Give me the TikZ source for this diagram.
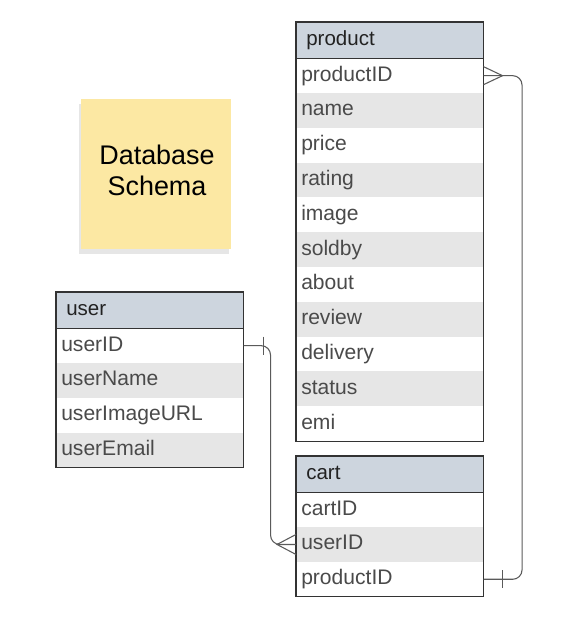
\documentclass[tikz,border=0pt]{standalone}
\usepackage{fontspec}
\setmainfont{Liberation Sans}
\usetikzlibrary{shadows,calc}
\definecolor{hdr}{HTML}{CDD5DE}
\definecolor{alt}{HTML}{E6E6E6}
\definecolor{sticky}{HTML}{FCE8A3}
\definecolor{txt}{HTML}{4A4A4A}
\definecolor{hdrtxt}{HTML}{222222}
\definecolor{edge}{HTML}{333333}
\definecolor{conn}{HTML}{5A5A5A}
\begin{document}
\begin{tikzpicture}[x=0.75pt,y=-0.75pt,
  cell/.style={anchor=north west, minimum width=140.25pt, minimum height=26.1pt,
    text width=132.75pt, inner xsep=3.75pt, inner ysep=0pt, align=left,
    text height=11.4pt, text depth=3.2pt,
    font=\fontsize{15.8pt}{17pt}\selectfont, text=txt},
  row0/.style={cell, fill=alt},
  row1/.style={cell, fill=white},
  hcell/.style={cell, fill=hdr, minimum height=27pt, text width=125.25pt, inner xsep=7.5pt,
    text=hdrtxt, font=\fontsize{15.4pt}{17pt}\selectfont},
  frame/.style={draw=edge, line width=0.8pt},
  conn/.style={draw=conn, line width=0.8pt},
]
\useasboundingbox (0,0) rectangle (587,618);

% sticky note
\node[anchor=north west, minimum width=112.5pt, minimum height=112.5pt, fill=sticky,
  drop shadow={opacity=0.2, shadow xshift=-1.5pt, shadow yshift=-3.5pt}] (note) at (81,99) {};
\node[align=center, font=\fontsize{20.2pt}{23.3pt}\selectfont, text=black] (notetext) at (157,170) {Database\\Schema};

% product table
\node[hcell] (ph) at (296,22) {product};
\foreach \t [count=\i, evaluate=\i as \c using {int(mod(\i,2))}] in
  {productID,name,price,rating,image,soldby,about,review,delivery,status,emi}
  \node[row\c] (p\i) at (296,{58+34.8*(\i-1)}) {\t};
\draw[frame] (ph.south west) -- (ph.south east);
\draw[frame] (ph.north west) rectangle (p11.south east);

% cart table
\node[hcell] (ch) at (296,456) {cart};
\foreach \t [count=\i, evaluate=\i as \c using {int(mod(\i,2))}] in
  {cartID,userID,productID}
  \node[row\c] (c\i) at (296,{492+34.8*(\i-1)}) {\t};
\draw[frame] (ch.south west) -- (ch.south east);
\draw[frame] (ch.north west) rectangle (c3.south east);

% user table
\node[hcell] (uh) at (56,292) {user};
\foreach \t [count=\i, evaluate=\i as \c using {int(mod(\i,2))}] in
  {userID,userName,userImageURL,userEmail}
  \node[row\c] (u\i) at (56,{328+34.8*(\i-1)}) {\t};
\draw[frame] (uh.south west) -- (uh.south east);
\draw[frame] (uh.north west) rectangle (u4.south east);

% product.productID (many) -- cart.productID (one)
\draw[conn, rounded corners=7pt] (p1.east) -- ++(38.5,0) |- (c3.east);
\draw[conn] ($(p1.east)+(0,-9)$) -- ($(p1.east)+(19,0)$) -- ($(p1.east)+(0,9)$);
\draw[conn] ($(c3.east)+(19,-9)$) -- ($(c3.east)+(19,9)$);

% user.userID (one) -- cart.userID (many)
\draw[conn, rounded corners=7pt] (u1.east) -- ++(27,0) |- (c2.west);
\draw[conn] ($(u1.east)+(20,-9)$) -- ($(u1.east)+(20,9)$);
\draw[conn] ($(c2.west)+(0,-10)$) -- ($(c2.west)+(-19,0)$) -- ($(c2.west)+(0,10)$);
\end{tikzpicture}
\end{document}
